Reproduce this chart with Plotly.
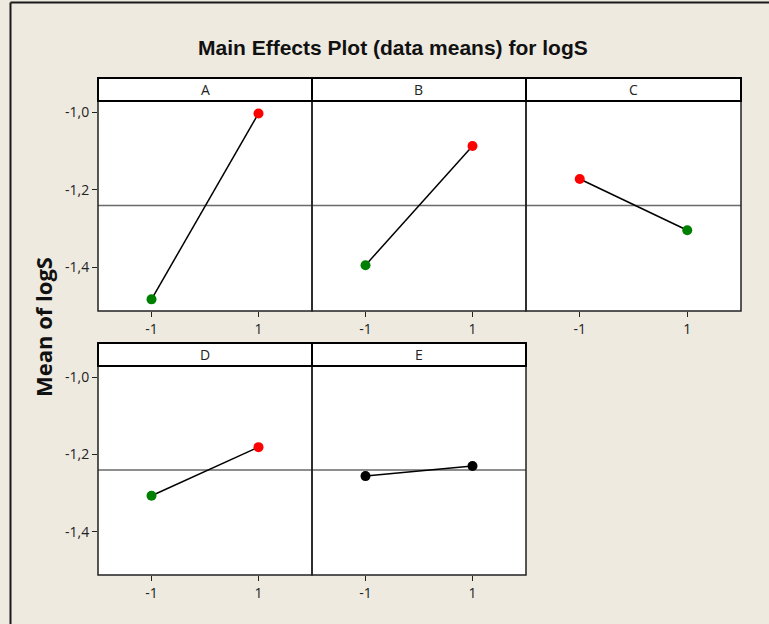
import plotly.graph_objects as go

# ---- data ----
factors = ["A", "B", "C", "D", "E"]
levels = [-1, 1]
means_low = [-1.482, -1.394, -1.172, -1.307, -1.256]
means_high = [-1.003, -1.087, -1.304, -1.181, -1.230]
colors_low = ["#008000", "#008000", "#FF0000", "#008000", "#000000"]
colors_high = ["#FF0000", "#FF0000", "#008000", "#FF0000", "#000000"]
grand_mean = -1.24
ytick_vals = [-1.4, -1.2, -1.0]
ytick_text = ["-1,4", "-1,2", "-1,0"]
xtick_vals = [-1, 1]
xtick_text = ["-1", "1"]
title_text = "Main Effects Plot (data means) for logS"
ytitle_text = "Mean of logS"

W, H = 769, 624
BG = "#EEEAE0"


def fx(p):
    return p / W


def fy(p):
    return 1 - p / H


col_edges = [(98, 312), (312, 526), (526, 741)]
rows = [  # (strip_top, plot_top, plot_bottom)
    (78, 101, 311),
    (343, 366, 575),
]
positions = [(0, 0), (0, 1), (0, 2), (1, 0), (1, 1)]

fig = go.Figure()
layout = dict(
    width=W, height=H,
    margin=dict(l=0, r=0, t=0, b=0),
    paper_bgcolor=BG, plot_bgcolor="white",
    showlegend=False,
    font=dict(family="Open Sans, DejaVu Sans, sans-serif", color="#222", size=14),
)
shapes = []
annotations = []

for i, f in enumerate(factors):
    r, c = positions[i]
    x0, x1 = col_edges[c]
    st, pt, pb = rows[r]
    n = "" if i == 0 else str(i + 1)
    xa, ya = "x" + n, "y" + n
    fig.add_trace(go.Scatter(
        x=levels, y=[means_low[i], means_high[i]],
        mode="lines+markers", xaxis=xa, yaxis=ya,
        line=dict(color="black", width=1.5),
        marker=dict(size=10, color=[colors_low[i], colors_high[i]]),
        hoverinfo="x+y",
    ))
    layout["xaxis" + n] = dict(
        domain=[fx(x0), fx(x1)], range=[-2, 2], anchor=ya,
        tickvals=xtick_vals, ticktext=xtick_text, ticks="outside", ticklen=5,
        tickcolor="#222", tickwidth=1.3, showgrid=False, zeroline=False,
        showline=False, tickfont=dict(size=14, color="#222"), fixedrange=True,
    )
    layout["yaxis" + n] = dict(
        domain=[fy(pb), fy(pt)], range=[-1.512, -0.971], anchor=xa,
        tickvals=ytick_vals, ticktext=ytick_text,
        ticks="outside" if c == 0 else "", ticklen=5, tickcolor="#222", tickwidth=1.3,
        showticklabels=(c == 0), showgrid=False, zeroline=False,
        showline=False, tickfont=dict(size=14, color="#222"), fixedrange=True,
    )
    # reference line at grand mean
    shapes.append(dict(type="line", xref=xa + " domain", yref=ya,
                       x0=0, x1=1, y0=grand_mean, y1=grand_mean,
                       line=dict(color="#6a6a6a", width=1.5), layer="below"))
    # plot-area frame
    shapes.append(dict(type="rect", xref="paper", yref="paper",
                       x0=fx(x0), x1=fx(x1), y0=fy(pb), y1=fy(pt),
                       line=dict(color="#222", width=1.5)))
    # strip
    shapes.append(dict(type="rect", xref="paper", yref="paper",
                       x0=fx(x0), x1=fx(x1), y0=fy(pt), y1=fy(st),
                       fillcolor="white", line=dict(color="black", width=2)))
    annotations.append(dict(text=f, xref="paper", yref="paper",
                            x=fx((x0 + x1) / 2), y=fy((st + pt) / 2),
                            showarrow=False, xanchor="center", yanchor="middle",
                            font=dict(size=14, color="#222")))

# outer frame lines (top and left)
shapes.append(dict(type="line", xref="paper", yref="paper",
                   x0=fx(10.5), x1=1, y0=fy(2.5), y1=fy(2.5),
                   line=dict(color="#1a1a1a", width=2)))
shapes.append(dict(type="line", xref="paper", yref="paper",
                   x0=fx(10.5), x1=fx(10.5), y0=fy(2.5), y1=0,
                   line=dict(color="#1a1a1a", width=2)))

annotations.append(dict(text="<b>" + title_text + "</b>", xref="paper", yref="paper",
                        x=fx(393), y=fy(48), showarrow=False,
                        xanchor="center", yanchor="middle",
                        font=dict(family="Liberation Sans, Arial, sans-serif",
                                  size=21, color="#111")))
annotations.append(dict(text="<b>" + ytitle_text + "</b>", xref="paper", yref="paper",
                        x=fx(43), y=fy(327), showarrow=False, textangle=-90,
                        xanchor="center", yanchor="middle",
                        font=dict(family="Open Sans, DejaVu Sans, sans-serif", size=22, color="#111")))

layout["shapes"] = shapes
layout["annotations"] = annotations
fig.update_layout(**layout)
fig.write_html("out.html", config={"displayModeBar": False},
               post_script="document.body.style.margin='0';document.body.style.overflow='hidden';")
